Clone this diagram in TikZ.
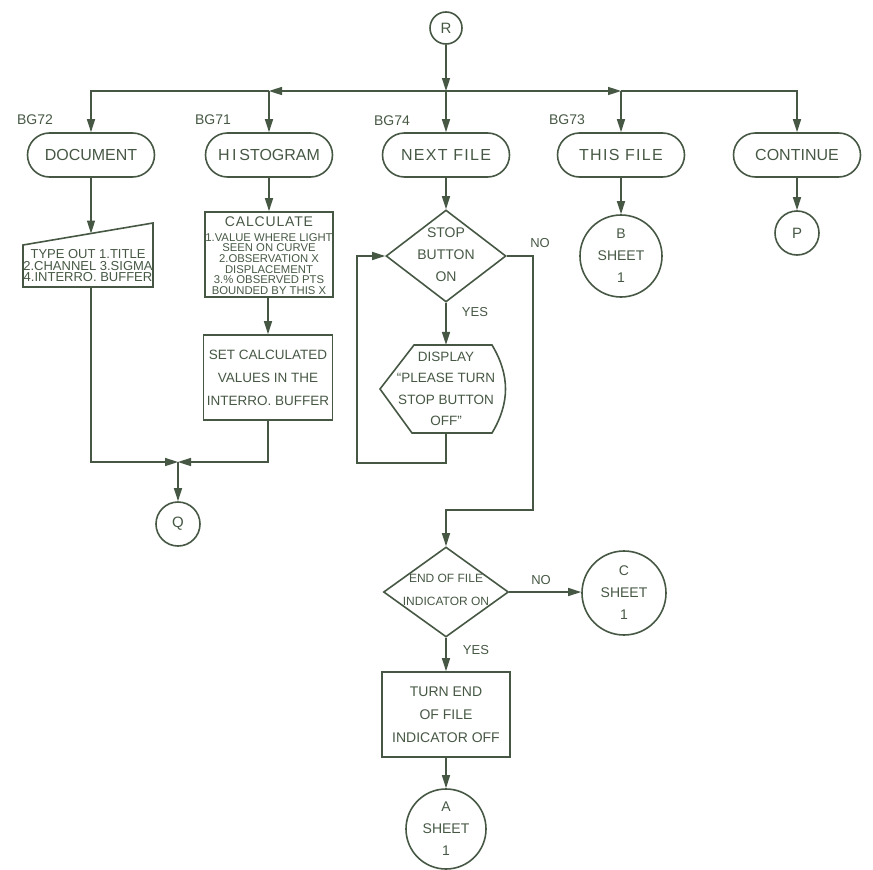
\documentclass[tikz,border=0pt]{standalone}
\usepackage{fontspec}
\setmainfont{Liberation Sans}
\usetikzlibrary{arrows.meta,shapes.geometric}
\definecolor{ink}{RGB}{70,88,68}
\begin{document}
\begin{tikzpicture}[x=1pt,y=-1pt,
  line/.style={draw=ink, line width=1.6pt},
  arr/.style={line, -{Triangle[length=13pt,width=8pt]}},
  term/.style={draw=ink, line width=1.6pt, rounded corners=22pt, minimum width=127pt, minimum height=44pt, inner sep=0pt, text=ink, font=\fontsize{16}{18}\selectfont},
  box/.style={draw=ink, line width=1.6pt, inner sep=0pt, text=ink, align=center},
  conn/.style={circle, draw=ink, line width=1.6pt, inner sep=0pt, text=ink, align=center},
  dia/.style={diamond, draw=ink, line width=1.6pt, inner sep=0pt},
  lbl/.style={text=ink, inner sep=0pt, align=center}
]
\useasboundingbox (0,0) rectangle (873,870);

% top connector and bus
\node[conn, minimum size=32pt, font=\fontsize{15}{15}\selectfont] (R) at (446,28) {R};
\coordinate (bus) at (446,91);
\coordinate (busL) at (269,91);
\coordinate (busLL) at (91,91);
\coordinate (busR) at (621,91);
\coordinate (busRR) at (797,91);

% terminals
\node[term] (doc) at (91,155) {DOCUMENT};
\node[term] (hist) at (269,155) {H\,I\,STOGRAM};
\node[term] (next) at (446,155) {\addfontfeature{LetterSpace=8}NEXT FILE};
\node[term] (this) at (621,155) {\addfontfeature{LetterSpace=8}THIS FILE};
\node[term] (cont) at (797,155) {CONTINUE};

\node[lbl, font=\fontsize{14}{14}\selectfont] (bg72) at (35,120) {BG72};
\node[lbl, font=\fontsize{14}{14}\selectfont] (bg71) at (213,120) {BG71};
\node[lbl, font=\fontsize{14}{14}\selectfont] (bg74) at (392,121) {BG74};
\node[lbl, font=\fontsize{14}{14}\selectfont] (bg73) at (567,120) {BG73};

\draw[arr] (R) -- (bus);
\draw[arr] (bus) -- (busL);
\draw[arr] (bus) -- (busR);
\draw[arr] (busL) -- (busLL) -- (doc.north);
\draw[arr] (busL) -- (hist.north);
\draw[arr] (bus) -- (next.north);
\draw[arr] (busR) -- (this.north);
\draw[arr] (busR) -- (busRR) -- (cont.north);

% DOCUMENT branch: manual input
\coordinate (mi1) at (23,245);
\coordinate (mi2) at (153,223);
\coordinate (mi3) at (153,287);
\coordinate (mi4) at (23,287);
\draw[line] (mi1) -- (mi2) -- (mi3) -- (mi4) -- cycle;
\node[lbl, font=\fontsize{13}{11.5}\selectfont] (mi) at (88,266) {TYPE OUT 1.TITLE\\2.CHANNEL 3.SIGMA\\4.INTERRO. BUFFER};
\coordinate (mitop) at (91,233.5);
\coordinate (mibot) at (91,287);
\draw[arr] (doc.south) -- (mitop);

% HISTOGRAM branch
\node[box, minimum width=128pt, minimum height=85pt] (calc) at (269,254.5) {};
\node[lbl, font=\fontsize{14}{14}\selectfont\addfontfeature{LetterSpace=6}] (calct) at (269,222) {CALCULATE};
\node[lbl, font=\fontsize{11.3}{10.6}\selectfont] (calcb) at (269,264) {1.VALUE WHERE LIGHT\\SEEN ON CURVE\\2.OBSERVATION X\\DISPLACEMENT\\3.\% OBSERVED PTS\\BOUNDED BY THIS X};
\node[box, minimum width=129pt, minimum height=85pt, font=\fontsize{13.5}{23}\selectfont] (set) at (268,377.5) {SET CALCULATED\\VALUES IN THE\\INTERRO. BUFFER};
\draw[arr] (hist.south) -- (calc.north);
\draw[arr] (calc.south) -- (set.south |- calc.south) -- (set.north);

% merge to Q
\coordinate (mL) at (91,462);
\coordinate (merge) at (178,462);
\coordinate (mR) at (268,462);
\node[conn, minimum size=44pt, font=\fontsize{15}{15}\selectfont] (Q) at (178,524) {Q};
\draw[arr] (mibot) -- (mL) -- (merge);
\draw[arr] (set.south) -- (mR) -- (merge);
\draw[arr] (merge) -- (Q.north);

% NEXT FILE branch
\node[dia, minimum width=120pt, minimum height=92pt] (stop) at (446,256) {};
\node[lbl, font=\fontsize{14}{22}\selectfont] (stopt) at (446,255) {STOP\\BUTTON\\ON};
\draw[arr] (next.south) -- (stop.north);
\node[lbl, font=\fontsize{13}{13}\selectfont] (no1) at (540,243) {NO};
\node[lbl, font=\fontsize{13}{13}\selectfont] (yes1) at (475,312) {YES};

\draw[line] (380,389) -- (414,345) -- (492,345) .. controls (510,375) and (510,403) .. (492,433) -- (412,433) -- cycle;
\node[lbl, minimum height=88pt, font=\fontsize{13.5}{21.5}\selectfont] (disp) at (446,389) {DISPLAY\\``PLEASE TURN\\STOP BUTTON\\OFF''};
\draw[arr] (stop.south) -- (disp.north);
\coordinate (lp1) at (446,463);
\coordinate (lp2) at (357,463);
\coordinate (lp3) at (357,256);
\draw[arr] (disp.south) -- (lp1) -- (lp2) -- (lp3) -- (stop.west);

\coordinate (no2) at (533,256);
\coordinate (no3) at (533,510);
\coordinate (no4) at (446,510);
\node[dia, minimum width=125pt, minimum height=90pt] (eof) at (446,592) {};
\node[lbl, font=\fontsize{12}{23}\selectfont] (eoft) at (446,590) {END OF FILE\\INDICATOR ON};
\draw[arr] (stop.east) -- (no2) -- (no3) -- (no4) -- (eof.north);

\node[conn, minimum size=84pt, font=\fontsize{14}{22}\selectfont] (C) at (624,593) {C\\SHEET\\1};
\draw[arr] (eof.east) -- (C.west |- eof.east);
\node[lbl, font=\fontsize{13}{13}\selectfont] (no5) at (541,580) {NO};
\node[lbl, font=\fontsize{13}{13}\selectfont] (yes2) at (476,650) {YES};

\node[box, minimum width=128pt, minimum height=85pt, font=\fontsize{14}{23}\selectfont] (turn) at (446,714.5) {TURN END\\OF FILE\\INDICATOR OFF};
\draw[arr] (eof.south) -- (turn.north);
\node[conn, minimum size=80pt, font=\fontsize{14}{22}\selectfont] (A) at (446,829) {A\\SHEET\\1};
\draw[arr] (turn.south) -- (A.north);

% THIS FILE and CONTINUE branches
\node[conn, minimum size=82pt, font=\fontsize{14}{22}\selectfont] (B) at (621,256) {B\\SHEET\\1};
\draw[arr] (this.south) -- (B.north);
\node[conn, minimum size=44pt, font=\fontsize{15}{15}\selectfont] (P) at (797,233) {P};
\draw[arr] (cont.south) -- (P.north);
\end{tikzpicture}
\end{document}
